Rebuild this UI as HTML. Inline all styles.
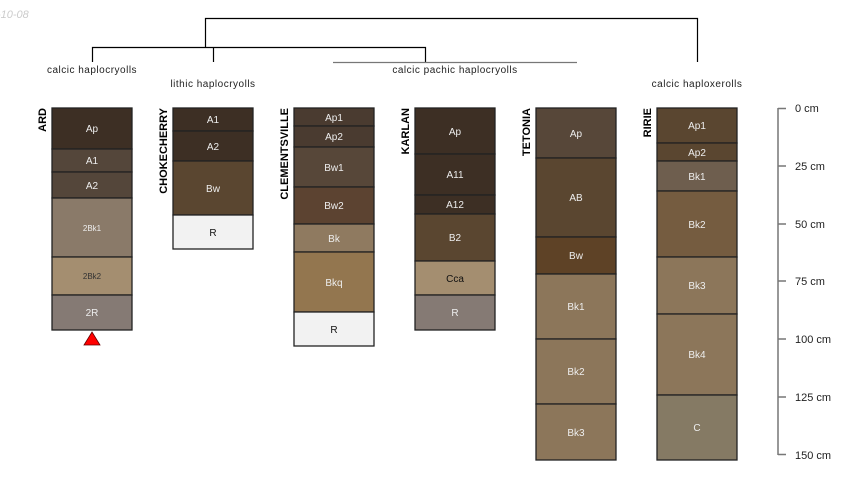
<!DOCTYPE html>
<html><head><meta charset="utf-8"><style>body{margin:0;background:#fff}svg{display:block}text{font-family:"Liberation Sans",sans-serif}</style></head><body>
<svg width="850" height="500" viewBox="0 0 850 500" xmlns="http://www.w3.org/2000/svg">
<text x="-3" y="18" font-size="11" font-style="italic" fill="#ccc">-10-08</text>
<g stroke="#000" stroke-width="1.2" fill="none">
<path d="M205.5 47V18.5H697.5V62"/>
<path d="M92.5 62V47.5H425.5V62"/>
<path d="M213.5 47V62"/>
</g>
<path d="M333 62.5H577" stroke="#777" stroke-width="1.2"/>
<g font-size="10" fill="#222" text-anchor="middle" letter-spacing="0.5">
<text x="92" y="73">calcic haplocryolls</text>
<text x="213" y="87">lithic haplocryolls</text>
<text x="455" y="73">calcic pachic haplocryolls</text>
<text x="697" y="87">calcic haploxerolls</text>
</g>
<g stroke="#222" stroke-width="1.3">
<rect x="52" y="108" width="80" height="41" fill="#3d2f24"/>
<rect x="52" y="149" width="80" height="23" fill="#54463a"/>
<rect x="52" y="172" width="80" height="26" fill="#54463a"/>
<rect x="52" y="198" width="80" height="59" fill="#8a7a69"/>
<rect x="52" y="257" width="80" height="38" fill="#a48e70"/>
<rect x="52" y="295" width="80" height="35" fill="#857a74"/>

<rect x="173" y="108" width="80" height="23" fill="#3d2f24"/>
<rect x="173" y="131" width="80" height="30" fill="#3d2f24"/>
<rect x="173" y="161" width="80" height="54" fill="#5a4630"/>
<rect x="173" y="215" width="80" height="34" fill="#f2f2f2"/>

<rect x="294" y="108" width="80" height="18" fill="#4a3b30"/>
<rect x="294" y="126" width="80" height="21" fill="#4a3b30"/>
<rect x="294" y="147" width="80" height="40" fill="#574739"/>
<rect x="294" y="187" width="80" height="37" fill="#5c4331"/>
<rect x="294" y="224" width="80" height="28" fill="#8f7a60"/>
<rect x="294" y="252" width="80" height="60" fill="#93764f"/>
<rect x="294" y="312" width="80" height="34" fill="#f2f2f2"/>

<rect x="415" y="108" width="80" height="46" fill="#3d2f24"/>
<rect x="415" y="154" width="80" height="41" fill="#3d2f24"/>
<rect x="415" y="195" width="80" height="19" fill="#3d2f24"/>
<rect x="415" y="214" width="80" height="47" fill="#5a4630"/>
<rect x="415" y="261" width="80" height="34" fill="#a48e70"/>
<rect x="415" y="295" width="80" height="35" fill="#857a74"/>

<rect x="536" y="108" width="80" height="50" fill="#574739"/>
<rect x="536" y="158" width="80" height="79" fill="#5a4630"/>
<rect x="536" y="237" width="80" height="37" fill="#5e4226"/>
<rect x="536" y="274" width="80" height="65" fill="#8c765a"/>
<rect x="536" y="339" width="80" height="65" fill="#8c765a"/>
<rect x="536" y="404" width="80" height="56" fill="#8c765a"/>

<rect x="657" y="108" width="80" height="35" fill="#5a4630"/>
<rect x="657" y="143" width="80" height="18" fill="#5a4630"/>
<rect x="657" y="161" width="80" height="30" fill="#6e5e4e"/>
<rect x="657" y="191" width="80" height="66" fill="#755c40"/>
<rect x="657" y="257" width="80" height="57" fill="#8c765a"/>
<rect x="657" y="314" width="80" height="81" fill="#8c765a"/>
<rect x="657" y="395" width="80" height="65" fill="#857a64"/>
</g>
<g font-size="10" fill="#eee" text-anchor="middle">
<text x="92" y="132">Ap</text><text x="92" y="164">A1</text><text x="92" y="189">A2</text>
<text x="92" y="231" font-size="8">2Bk1</text><text x="92" y="279" font-size="8" fill="#333">2Bk2</text><text x="92" y="316">2R</text>
<text x="213" y="123">A1</text><text x="213" y="150">A2</text><text x="213" y="192">Bw</text><text x="213" y="236" fill="#111">R</text>
<text x="334" y="121">Ap1</text><text x="334" y="140">Ap2</text><text x="334" y="171">Bw1</text><text x="334" y="209">Bw2</text>
<text x="334" y="242">Bk</text><text x="334" y="286">Bkq</text><text x="334" y="333" fill="#111">R</text>
<text x="455" y="135">Ap</text><text x="455" y="178">A11</text><text x="455" y="208">A12</text><text x="455" y="241">B2</text>
<text x="455" y="282" fill="#111">Cca</text><text x="455" y="316">R</text>
<text x="576" y="137">Ap</text><text x="576" y="201">AB</text><text x="576" y="259">Bw</text>
<text x="576" y="310">Bk1</text><text x="576" y="375">Bk2</text><text x="576" y="436">Bk3</text>
<text x="697" y="129">Ap1</text><text x="697" y="156">Ap2</text><text x="697" y="180">Bk1</text><text x="697" y="228">Bk2</text>
<text x="697" y="289">Bk3</text><text x="697" y="358">Bk4</text><text x="697" y="431">C</text>
</g>
<g font-size="11" font-weight="bold" fill="#000">
<text transform="translate(46,108) rotate(-90)" text-anchor="end">ARD</text>
<text transform="translate(167,108) rotate(-90)" text-anchor="end">CHOKECHERRY</text>
<text transform="translate(288,108) rotate(-90)" text-anchor="end">CLEMENTSVILLE</text>
<text transform="translate(409,108) rotate(-90)" text-anchor="end">KARLAN</text>
<text transform="translate(530,108) rotate(-90)" text-anchor="end">TETONIA</text>
<text transform="translate(651,108) rotate(-90)" text-anchor="end">RIRIE</text>
</g>
<polygon points="92,332 100,345 84,345" fill="#f00" stroke="#600" stroke-width="0.8"/>
<g stroke="#777" stroke-width="1.5" fill="none"><path d="M778 108V455M778 108.5H786M778 166H786M778 224H786M778 281H786M778 339H786M778 397H786M778 454.5H786"/></g>
<g font-size="11" fill="#222">
<text x="795" y="112">0 cm</text><text x="795" y="170">25 cm</text><text x="795" y="228">50 cm</text><text x="795" y="285">75 cm</text><text x="795" y="343">100 cm</text><text x="795" y="401">125 cm</text><text x="795" y="459">150 cm</text>
</g>
</svg>
</body></html>
